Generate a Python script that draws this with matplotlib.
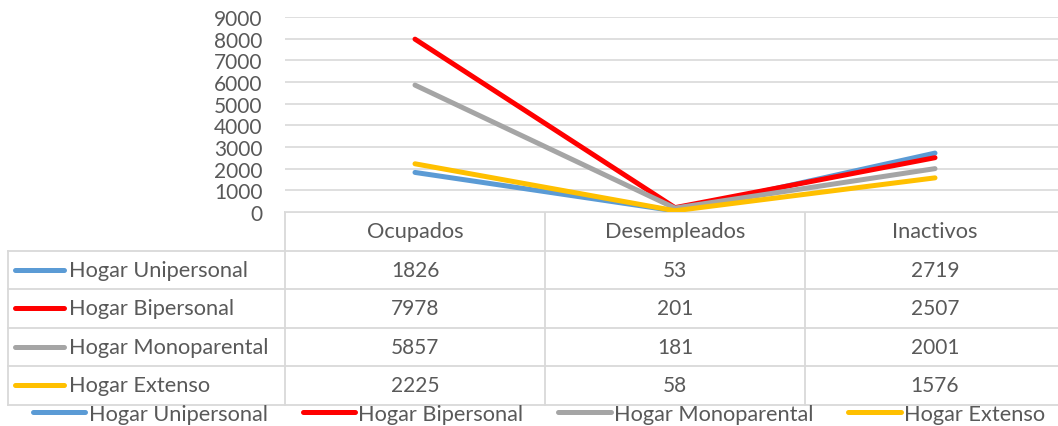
import numpy as np
import matplotlib.pyplot as plt
from matplotlib.lines import Line2D

categories = ['Ocupados', 'Desempleados', 'Inactivos']
series_names = ['Hogar Unipersonal', 'Hogar Bipersonal',
                'Hogar Monoparental', 'Hogar Extenso']
unipersonal = [1826, 53, 2719]
bipersonal = [7978, 201, 2507]
monoparental = [5857, 181, 2001]
extenso = [2225, 58, 1576]
series_values = [unipersonal, bipersonal, monoparental, extenso]
colors = ['#5B9BD5', '#FF0000', '#A5A5A5', '#FFC000']
y_ticks = np.arange(0, 9001, 1000)

W, H = 1058, 427
text_color = '#595959'
grid_color = '#D9D9D9'
fs = 15.7
tick_fs = 15
plt.rc('font', family=['Lato', 'DejaVu Sans'])

fig = plt.figure(figsize=(W / 100, H / 100), dpi=100)

# layout in pixels
plot_left, plot_top, plot_bottom = 285, 18, 213
col_w = 260
row_h = 38.5
label_left = 8
plot_right = plot_left + col_w * len(categories)

ax = fig.add_axes([plot_left / W, 1 - plot_bottom / H,
                   (plot_right - plot_left) / W, (plot_bottom - plot_top) / H])
x = np.arange(len(categories))
for name, vals, c in zip(series_names, series_values, colors):
    ax.plot(x, vals, color=c, linewidth=3.6, solid_capstyle='round',
            solid_joinstyle='round', label=name)
ax.set_xlim(-0.5, len(categories) - 0.5)
ax.set_ylim(0, 9000)
ax.set_yticks(y_ticks)
ax.set_yticklabels([str(v) for v in y_ticks], color=text_color, fontsize=tick_fs)
ax.tick_params(axis='y', length=0, pad=16)
ax.set_xticks([])
ax.grid(axis='y', color=grid_color, linewidth=1.2)
ax.set_axisbelow(True)
for s in ax.spines.values():
    s.set_visible(False)

# data table drawn in pixel space
tab = fig.add_axes([0, 0, 1, 1], zorder=-1)
tab.set_xlim(0, W)
tab.set_ylim(H, 0)
tab.axis('off')
lw = 1.3
n_rows = len(series_names)
table_top = plot_bottom
first_row = table_top + row_h
table_bottom = first_row + row_h * n_rows

tab.plot([plot_left, plot_right], [table_top, table_top], color=grid_color, lw=lw)
for i in range(n_rows + 1):
    yy = first_row + i * row_h
    tab.plot([label_left, plot_right], [yy, yy], color=grid_color, lw=lw)
tab.plot([label_left, label_left], [first_row, table_bottom], color=grid_color, lw=lw)
for j in range(len(categories)):
    xx = plot_left + j * col_w
    tab.plot([xx, xx], [table_top, table_bottom], color=grid_color, lw=lw)

for j, cat in enumerate(categories):
    tab.text(plot_left + (j + 0.5) * col_w, table_top + row_h / 2, cat,
             ha='center', va='center', color=text_color, fontsize=fs)

for i, (name, vals, c) in enumerate(zip(series_names, series_values, colors)):
    yc = first_row + (i + 0.5) * row_h
    tab.plot([15, 64], [yc, yc], color=c, lw=3.6, solid_capstyle='round')
    tab.text(69, yc, name, ha='left', va='center', color=text_color, fontsize=fs)
    for j, v in enumerate(vals):
        tab.text(plot_left + (j + 0.5) * col_w, yc, str(v),
                 ha='center', va='center', color=text_color, fontsize=tick_fs)

handles = [Line2D([], [], color=c, lw=3.6, solid_capstyle='round') for c in colors]
leg = fig.legend(handles, series_names, loc='center', ncol=4,
                 bbox_to_anchor=(539 / W, 1 - 415 / H), frameon=False,
                 fontsize=fs, handlelength=2.4, handletextpad=0.15,
                 columnspacing=1.6, borderaxespad=0)
for t in leg.get_texts():
    t.set_color(text_color)

fig.savefig('out.png', dpi=100)
